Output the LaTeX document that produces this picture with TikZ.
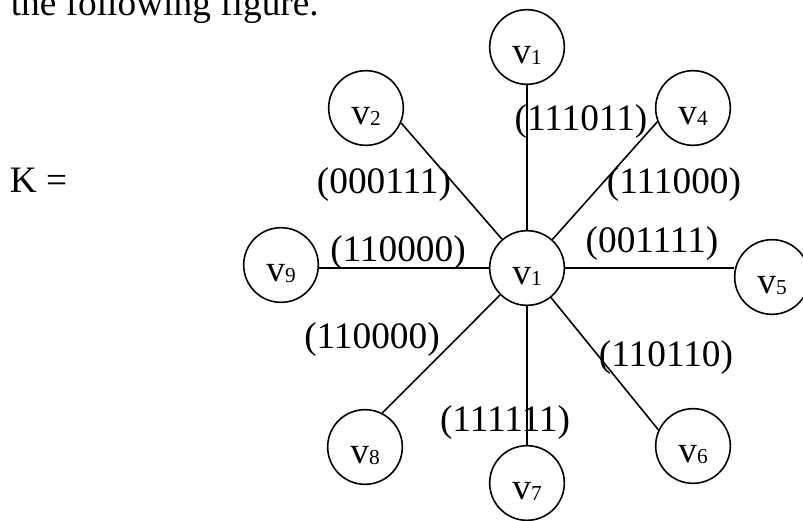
\documentclass[tikz,border=0pt]{standalone}
\usepackage{fontspec}
\setmainfont{Liberation Serif}
\newcommand{\vtx}[1]{v\raisebox{-1pt}{\fontsize{16}{17}\selectfont #1}}

\begin{document}
\begin{tikzpicture}[x=0.75pt,y=-0.75pt,line width=1.2pt,
  every node/.style={font=\fontsize{28}{34}\selectfont},
  vertex/.style={circle,draw,minimum size=56pt,inner sep=0pt,text height=24pt,text depth=0pt},
  code/.style={inner sep=0pt}]
\useasboundingbox (0,0) rectangle (803,521);
\node[anchor=base west,inner sep=0pt] (intro) at (10,16) {the following figure.};
\node[anchor=base west,inner sep=0pt] (k) at (9,192) {K =};

\node[vertex] (c) at (527,268) {\vtx{1}};
\node[vertex,above of=c,node distance=165.75pt] (t1) {\vtx{1}};
\node[vertex,below of=c,node distance=161.25pt] (v7) {\vtx{7}};
\node[vertex] (v2) at (366,108) {\vtx{2}};
\node[vertex] (v4) at (693,108) {\vtx{4}};
\node[vertex] (v9) at (281,265) {\vtx{9}};
\node[vertex] (v5) at (772,277) {\vtx{5}};
\node[vertex] (v8) at (365,447) {\vtx{8}};
\node[vertex] (v6) at (693,446) {\vtx{6}};

\draw (c) -- (t1);
\draw (c) -- (v2.-23);
\draw (c) -- (v4.201);
\draw (c.west) -- (c.west -| v9.east);
\draw (c.east) -- (c.east -| v5.west);
\draw (c) -- (v8.63);
\draw (c) -- (v7);
\draw (c) -- (v6.155);

\node[code] (e1) at (581,122) {(111011)};
\node[code] (e2) at (384,185) {(000111)};
\node[code] (e4) at (674,185) {(111000)};
\node[code] (e9) at (398,253) {(110000)};
\node[code] (e5) at (652,244) {(001111)};
\node[code] (e8) at (372,340) {(110000)};
\node[code] (e6) at (666,358) {(110110)};
\node[code] (e7) at (505,423) {(111111)};
\end{tikzpicture}
\end{document}
